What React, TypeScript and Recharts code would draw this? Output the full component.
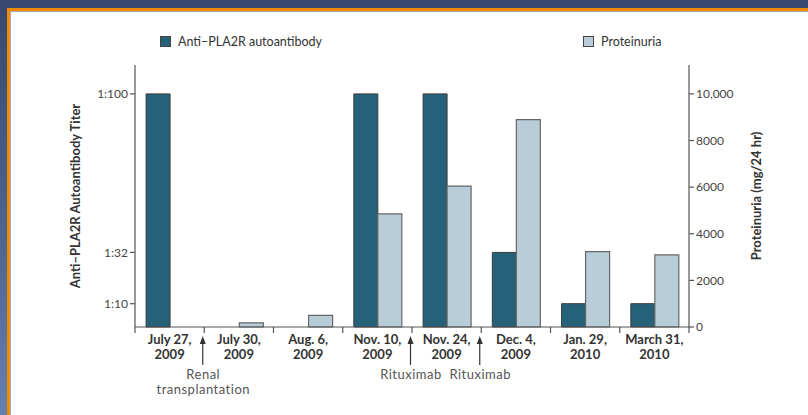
import { Bar, BarChart, XAxis, YAxis } from "recharts";

const dates = ["July 27,", "July 30,", "Aug. 6,", "Nov. 10,", "Nov. 24,", "Dec. 4,", "Jan. 29,", "March 31,"];
const years = ["2009", "2009", "2009", "2009", "2009", "2009", "2010", "2010"];
const titer = [100, 0, 0, 100, 100, 32, 10, 10];
const proteinuria = [0, 180, 500, 4850, 6040, 8900, 3230, 3090];

const titerTicks = [10, 32, 100];
const proteinTicks = [0, 2000, 4000, 6000, 8000, 10000];

// events marked with an arrow before the given category
const events = [
  { before: 1, lines: ["Renal", "transplantation"] },
  { before: 4, lines: ["Rituximab"] },
  { before: 5, lines: ["Rituximab"] },
];

const data = dates.map((d, i) => ({ date: d, year: years[i], titer: titer[i], proteinuria: proteinuria[i] }));

const DARK = "#256279";
const LIGHT = "#b9cdd9";
const AXIS = "#555";
const FONT = "Lato, 'Open Sans', sans-serif";

function DateTick(props: any) {
  const { x, y, payload, index } = props;
  const half = payload?.offset || 34.6;
  const left = x - half;
  const ev = events.find((e) => e.before === index);
  return (
    <g>
      <line x1={left} y1={y} x2={left} y2={y + 6} stroke={AXIS} strokeWidth={1.2} />
      {index === dates.length - 1 && <line x1={x + half} y1={y} x2={x + half} y2={y + 6} stroke={AXIS} strokeWidth={1.2} />}
      <text x={x} y={y + 17} textAnchor="middle" fontSize={13} fontWeight={700} fill="#333" fontFamily={FONT}>
        {payload.value}
      </text>
      <text x={x} y={y + 31.5} textAnchor="middle" fontSize={13} fontWeight={700} fill="#333" fontFamily={FONT}>
        {years[index]}
      </text>
      {ev && (
        <g>
          <line x1={left - 1.5} y1={y + 15} x2={left - 1.5} y2={y + 38} stroke="#333" strokeWidth={1.2} />
          <path d={`M${left - 1.5},${y + 9} L${left - 4.5},${y + 17} L${left + 1.5},${y + 17} Z`} fill="#333" />
          {ev.lines.map((t, k) => (
            <text key={k} x={left - 1} y={y + 52 + k * 15} textAnchor="middle" fontSize={13} letterSpacing={0.5} fill="#555" fontFamily={FONT}>
              {t}
            </text>
          ))}
        </g>
      )}
    </g>
  );
}

function LegendItem({ x, color, label }: { x: number; color: string; label: string }) {
  return (
    <div style={{ position: "absolute", left: x, top: 34, display: "flex", alignItems: "center", fontFamily: FONT, fontSize: 12.5, color: "#333" }}>
      <span style={{ width: 9, height: 9, background: color, border: "1px solid #444", marginRight: 7, display: "inline-block" }} />
      {label}
    </div>
  );
}

export default function App() {
  return (
    <div style={{ position: "absolute", left: 0, top: 0, width: 808, height: 415, overflow: "hidden", background: "linear-gradient(180deg, #384870 0%, #4d6390 55%, #6680ad 100%)" }}>
      <div style={{ position: "absolute", left: 7, top: 8, right: 0, bottom: 0, borderTop: "3px solid #f08a00", borderLeft: "3px solid #f08a00", background: "#fff" }}>
        <div style={{ position: "absolute", inset: 0, borderTop: "1px solid #aaa", borderLeft: "1px solid #aaa" }} />
      </div>
      <LegendItem x={160} color={DARK} label="Anti–PLA2R autoantibody" />
      <LegendItem x={583} color={LIGHT} label="Proteinuria" />
      <div style={{ position: "absolute", left: 0, top: 0 }}>
        <BarChart width={808} height={415} data={data} margin={{ top: 65, right: 0, bottom: 0, left: 0 }} barCategoryGap="16%" barGap={0}>
          <XAxis dataKey="date" height={88} axisLine={{ stroke: AXIS, strokeWidth: 1.2 }} tickLine={false} tickSize={0} tickMargin={0} interval={0} tick={<DateTick />} />
          <YAxis
            yAxisId="titer"
            orientation="left"
            width={135}
            domain={[0, 112.4]}
            ticks={titerTicks}
            tickFormatter={(v) => `1:${v}`}
            tick={{ fill: "#444", fontSize: 12, fontFamily: FONT }}
            axisLine={{ stroke: AXIS, strokeWidth: 1.2 }}
            tickLine={{ stroke: AXIS, strokeWidth: 1.2 }}
            tickSize={5}
            label={{ value: "Anti–PLA2R Autoantibody Titer", angle: -90, position: "center", dx: 8, style: { fill: "#333", fontSize: 13, fontWeight: 700, fontFamily: FONT } }}
          />
          <YAxis
            yAxisId="prot"
            orientation="right"
            width={119}
            domain={[0, 11240]}
            ticks={proteinTicks}
            tickFormatter={(v) => (v === 10000 ? "10,000" : String(v))}
            tick={{ fill: "#444", fontSize: 12, fontFamily: FONT }}
            axisLine={{ stroke: AXIS, strokeWidth: 1.2 }}
            tickLine={{ stroke: AXIS, strokeWidth: 1.2 }}
            tickSize={5}
            label={{ value: "Proteinuria (mg/24 hr)", angle: -90, position: "center", dx: 8, style: { fill: "#333", fontSize: 13, fontWeight: 700, fontFamily: FONT } }}
          />
          <Bar yAxisId="titer" dataKey="titer" fill={DARK} stroke="#3a3a3a" strokeWidth={1} isAnimationActive={false} />
          <Bar yAxisId="prot" dataKey="proteinuria" fill={LIGHT} stroke="#666" strokeWidth={1.2} isAnimationActive={false} />
        </BarChart>
      </div>
    </div>
  );
}
